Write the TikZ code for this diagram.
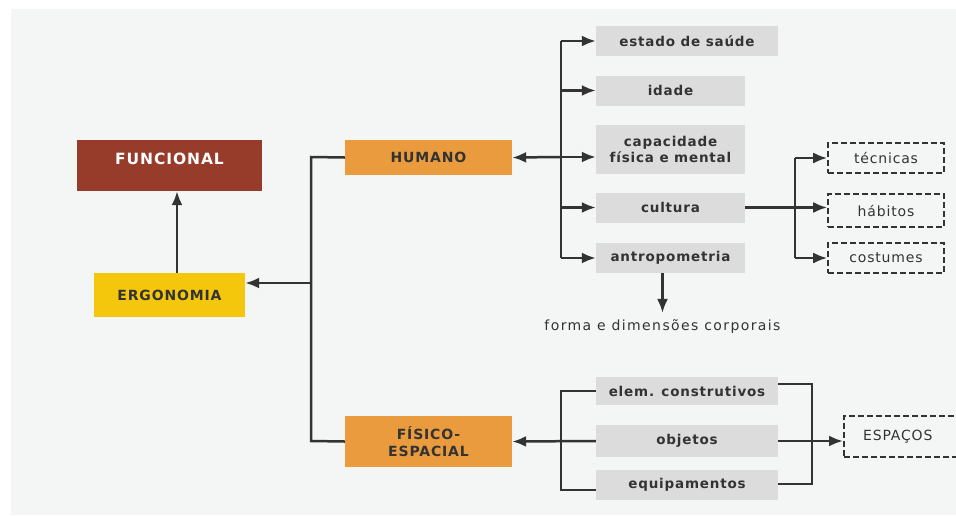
\documentclass[tikz,border=0pt]{standalone}
\usepackage{fontspec}
\setmainfont{DejaVu Sans}[LetterSpace=6]
\usetikzlibrary{arrows.meta}
\definecolor{bgcol}{HTML}{F4F6F6}
\definecolor{ink}{HTML}{333333}
\definecolor{bordo}{HTML}{973B2A}
\definecolor{amarelo}{HTML}{F4C60C}
\definecolor{laranja}{HTML}{E99B3E}
\definecolor{cinza}{HTML}{DCDCDC}

\begin{document}
\begin{tikzpicture}[x=1pt,y=-1pt,
  every node/.style={inner sep=0pt,text=ink},
  head/.style={minimum width=#1,font=\fontsize{14}{17}\selectfont\bfseries,align=center},
  item/.style={fill=cinza,minimum width=#1,minimum height=30pt,font=\fontsize{13.5}{16}\selectfont\bfseries,align=center},
  sub/.style={draw=ink,line width=1.6pt,dash pattern=on 6pt off 3pt,minimum width=#1,font=\fontsize{14}{17}\selectfont},
  link/.style={draw=ink,line width=2.5pt},
  arr/.style={link,-{Latex[length=14pt,width=11pt]}}]
\useasboundingbox (0,0) rectangle (956,515);
\fill[bgcol] (11,9) rectangle (956,515);

\node[head=185pt,fill=bordo,minimum height=51pt,text depth=14pt,text=white,font=\fontsize{15.5}{18}\selectfont\bfseries] (funcional) at (169.5,165.5) {FUNCIONAL};
\node[head=151pt,fill=amarelo,minimum height=44pt] (ergonomia) at (169.5,295) {ERGONOMIA};
\node[head=167pt,fill=laranja,minimum height=35pt] (humano) at (428.5,157.5) {HUMANO};
\node[head=167pt,fill=laranja,minimum height=51pt] (fisico) at (428.5,441.5) {FÍSICO-\\ESPACIAL};

\node[item=182pt] (saude) at (687,41) {estado de saúde};
\node[item=149pt] (idade) at (670.5,90.5) {idade};
\node[item=149pt,minimum height=49pt] (capacidade) at (670.5,149.5) {capacidade\\física e mental};
\node[item=149pt] (cultura) at (670.5,207.5) {cultura};
\node[item=149pt] (antropo) at (670.5,258) {antropometria};
\node[font=\fontsize{14}{17}\selectfont\addfontfeatures{LetterSpace=10}] (forma) at (662.5,327) {forma e dimensões corporais};

\node[sub=116pt,minimum height=30pt] (tecnicas) at (886,158) {técnicas};
\node[sub=116pt,minimum height=33pt] (habitos) at (886,210.5) {hábitos};
\node[sub=116pt,minimum height=30pt] (costumes) at (886,258) {costumes};

\node[item=182pt,minimum height=28pt] (elem) at (687,391) {elem. construtivos};
\node[item=182pt,minimum height=32pt] (objetos) at (687,441) {objetos};
\node[item=182pt] (equip) at (687,485) {equipamentos};
\node[sub=120pt,minimum height=41pt,anchor=west] (espacos) at (843,436.5) {\hspace*{-12pt}ESPAÇOS};

\coordinate (ltop) at (311,157);
\coordinate (lmid) at (311,283);
\coordinate (lbot) at (311,441);
\draw[link] (humano.west) -- (ltop) -- (lbot) -- (fisico.west);
\draw[arr] (lmid) -- (lmid -| ergonomia.east);
\draw[arr] ([xshift=7.5pt]ergonomia.north) -- ([xshift=7.5pt]funcional.south);

\coordinate (htop) at (561,41);
\coordinate (hmid) at (561,157);
\coordinate (hbot) at (561,258);
\draw[link] (htop) -- (hbot);
\draw[arr] (hmid) -- (humano.east);
\foreach \n in {saude,idade,cultura,antropo}
  \draw[arr] (htop |- \n.west) -- (\n.west);
\draw[arr] (hmid) -- ([yshift=-7.5pt]capacidade.west);
\draw[arr] (antropo.south -| forma.north) -- ([yshift=7pt]forma.north);

\coordinate (ctop) at (795,158);
\coordinate (cbot) at (795,258);
\draw[link] (ctop) -- (cbot);
\draw[arr] (cultura.east) -- (cultura.east -| habitos.west);
\draw[arr] (ctop) -- (tecnicas.west);
\draw[arr] (cbot) -- (costumes.west);

\coordinate (ftop) at (561,391);
\coordinate (fbot) at (561,490);
\draw[link] (elem.west |- ftop) -- (ftop) -- (fbot) -- (equip.west |- fbot);
\draw[arr] (objetos.west) -- (fisico.east);
\coordinate (rtop) at (812,384);
\coordinate (rbot) at (812,484);
\draw[link] (elem.east |- rtop) -- (rtop) -- (rbot) -- (equip.east |- rbot);
\draw[arr] (objetos.east) -- (objetos.east -| espacos.west);
\end{tikzpicture}
\end{document}
